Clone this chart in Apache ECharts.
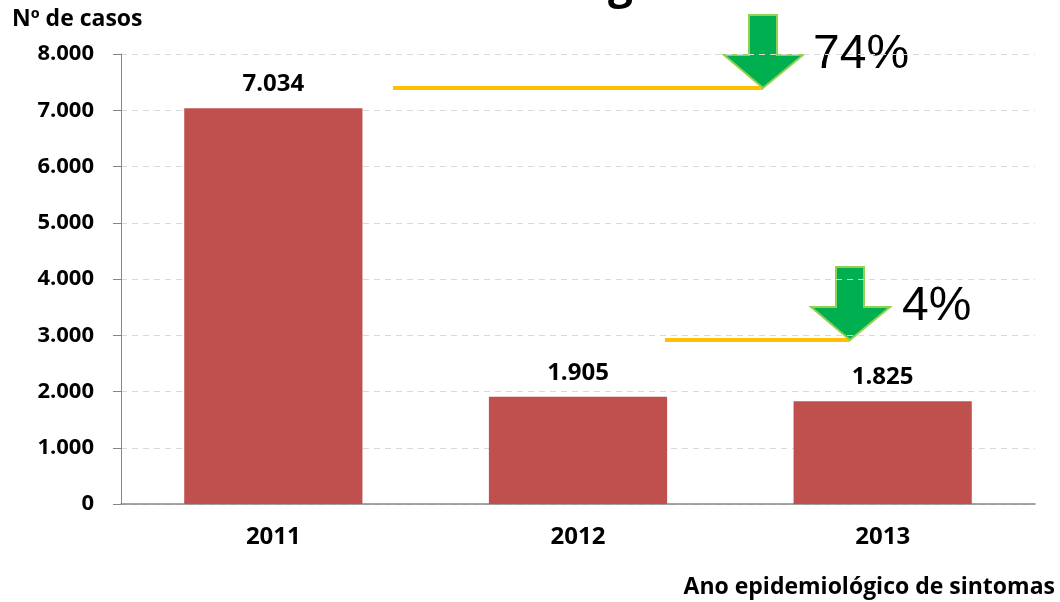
<!DOCTYPE html>
<html>
<head>
<meta charset="utf-8">
<script src="https://cdn.jsdelivr.net/npm/echarts@6/dist/echarts.min.js"></script>
<style>
  html, body { margin: 0; padding: 0; background: #fff; }
  #chart { width: 1060px; height: 602px; }
</style>
</head>
<body>
<div id="chart"></div>
<script>
// dados
const anos = ['2011', '2012', '2013'];
const casos = [7034, 1905, 1825];
const reducoes = ['74%', '4%'];

const fonte = '"Open Sans", Lato, sans-serif';

// 7034 -> "7.034"
function fmt(v) {
  return String(v).replace(/\B(?=(\d{3})+(?!\d))/g, '.');
}

const seta = (x, yTop, yHead, yTip) => [
  [x - 14, yTop], [x + 14, yTop], [x + 14, yHead], [x + 40, yHead],
  [x, yTip], [x - 39, yHead], [x - 14, yHead]
];

let option = {
  animation: false,
  backgroundColor: '#fff',
  grid: { left: 121, right: 25, top: 54, bottom: 98 },
  xAxis: {
    type: 'category',
    data: anos,
    axisTick: { show: false },
    axisLine: { lineStyle: { color: '#868686', width: 1.5 } },
    axisLabel: { color: '#000', fontFamily: fonte, fontWeight: 'bold', fontSize: 24, margin: 21 }
  },
  yAxis: {
    type: 'value',
    min: 0,
    max: 8000,
    interval: 1000,
    axisLine: { show: true, lineStyle: { color: '#868686', width: 1 } },
    axisTick: { show: true, length: 8, lineStyle: { color: '#868686' } },
    axisLabel: {
      color: '#000', fontFamily: fonte, fontWeight: 'bold', fontSize: 22, margin: 27,
      formatter: fmt
    },
    splitLine: { lineStyle: { color: '#D9D9D9', type: [6, 5] } }
  },
  series: [{
    type: 'bar',
    data: casos,
    barWidth: '58.5%',
    itemStyle: { color: '#C0504D' },
    label: {
      show: true,
      position: 'top',
      distance: 12,
      color: '#000',
      fontFamily: fonte,
      fontWeight: 'bold',
      fontSize: 24,
      formatter: p => fmt(p.value)
    }
  }],
  graphic: [
    // título cortado no topo
    { type: 'text', left: 608, top: -37, style: { text: 'g', font: 'bold 44px ' + fonte, fill: '#000' } },
    { type: 'text', left: 12, top: 8, style: { text: 'Nº de casos', font: 'bold 23px ' + fonte, fill: '#000' } },
    { type: 'text', right: 5, top: 576, style: { text: 'Ano epidemiológico de sintomas', font: 'bold 23px ' + fonte, fill: '#000' } },
    // anotações de redução
    { type: 'line', shape: { x1: 393, y1: 88, x2: 763, y2: 88 }, style: { stroke: '#FFC000', lineWidth: 4 } },
    { type: 'polygon', shape: { points: seta(763, 15, 55, 88) }, style: { fill: '#00B050', stroke: '#92D050', lineWidth: 2 } },
    { type: 'text', left: 813, top: 31, style: { text: reducoes[0], font: '48px "Liberation Sans", Arial, sans-serif', fill: '#000' } },
    { type: 'line', shape: { x1: 665, y1: 340, x2: 850, y2: 340 }, style: { stroke: '#FFC000', lineWidth: 4 } },
    { type: 'polygon', shape: { points: seta(850, 267, 307, 340) }, style: { fill: '#00B050', stroke: '#92D050', lineWidth: 2 } },
    { type: 'text', left: 902, top: 283, style: { text: reducoes[1], font: '48px "Liberation Sans", Arial, sans-serif', fill: '#000' } }
  ]
};

let myChart = echarts.init(document.getElementById('chart'));
myChart.setOption(option);
</script>
</body>
</html>
